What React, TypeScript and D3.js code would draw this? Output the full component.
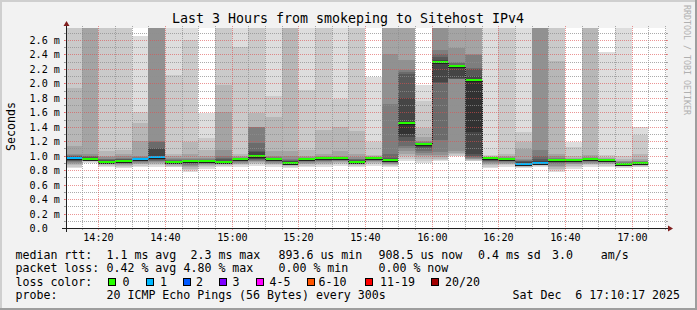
import React from "react";
import * as d3 from "d3";

const WIDTH = 697;
const HEIGHT = 310;
const TITLE = "Last 3 Hours from smokeping to Sitehost IPv4";
const Y_LABEL = "Seconds";
const WATERMARK = "RRDTOOL / TOBI OETIKER";

const RANGE_START = "14:10:17";
const RANGE_END = "17:10:17";
const Y_MAX_MS = 2.766;
const STEP_MIN = 5;

const yTickValues = [0, 0.2, 0.4, 0.6, 0.8, 1.0, 1.2, 1.4, 1.6, 1.8, 2.0, 2.2, 2.4, 2.6];
const yTickLabels = ["0.0", "0.2 m", "0.4 m", "0.6 m", "0.8 m", "1.0 m", "1.2 m", "1.4 m", "1.6 m", "1.8 m", "2.0 m", "2.2 m", "2.4 m", "2.6 m"];
const xTickLabels = ["14:20", "14:40", "15:00", "15:20", "15:40", "16:00", "16:20", "16:40", "17:00"];

const barStarts = [
  "14:10", "14:15", "14:20", "14:25", "14:30", "14:35", "14:40", "14:45", "14:50", "14:55",
  "15:00", "15:05", "15:10", "15:15", "15:20", "15:25", "15:30", "15:35", "15:40", "15:45",
  "15:50", "15:55", "16:00", "16:05", "16:10", "16:15", "16:20", "16:25", "16:30", "16:35",
  "16:40", "16:45", "16:50", "16:55", "17:00",
];

const medianMs = [
  0.973, 0.954, 0.913, 0.93, 0.954, 0.986, 0.913, 0.927, 0.927, 0.913,
  0.954, 1.0, 0.959, 0.903, 0.954, 0.964, 0.964, 0.917, 0.964, 0.94,
  1.456, 1.157, 2.30, 2.245, 2.05, 0.968, 0.959, 0.889, 0.903, 0.94,
  0.94, 0.959, 0.94, 0.889, 0.903,
];

const lossCount = [
  1, 0, 0, 0, 1, 1, 0, 0, 0, 0,
  0, 0, 0, 0, 0, 0, 0, 0, 0, 0,
  0, 0, 0, 0, 0, 0, 0, 1, 1, 0,
  0, 0, 0, 0, 0,
];

// sorted pings 1..10 (ms)
const pingsLow = [
  [0.83, 0.85, 0.87, 0.89, 0.90, 0.91, 0.92, 0.93, 0.94, 0.96],
  [0.90, 0.91, 0.92, 0.93, 0.935, 0.94, 0.945, 0.95, 0.95, 0.95],
  [0.84, 0.86, 0.87, 0.88, 0.89, 0.90, 0.90, 0.91, 0.91, 0.912],
  [0.83, 0.85, 0.86, 0.87, 0.88, 0.89, 0.90, 0.91, 0.92, 0.925],
  [0.84, 0.86, 0.88, 0.89, 0.90, 0.91, 0.92, 0.93, 0.94, 0.95],
  [0.85, 0.87, 0.89, 0.90, 0.91, 0.92, 0.93, 0.94, 0.95, 0.97],
  [0.84, 0.85, 0.86, 0.87, 0.88, 0.89, 0.90, 0.905, 0.91, 0.912],
  [0.78, 0.80, 0.82, 0.84, 0.86, 0.87, 0.89, 0.90, 0.91, 0.92],
  [0.82, 0.84, 0.86, 0.87, 0.88, 0.89, 0.90, 0.91, 0.92, 0.925],
  [0.84, 0.86, 0.87, 0.88, 0.89, 0.90, 0.905, 0.91, 0.91, 0.912],
  [0.85, 0.87, 0.88, 0.89, 0.90, 0.91, 0.92, 0.93, 0.94, 0.95],
  [0.86, 0.88, 0.90, 0.91, 0.92, 0.93, 0.94, 0.95, 0.96, 0.98],
  [0.85, 0.87, 0.88, 0.89, 0.90, 0.91, 0.92, 0.93, 0.94, 0.95],
  [0.83, 0.85, 0.86, 0.87, 0.88, 0.89, 0.89, 0.90, 0.90, 0.90],
  [0.84, 0.86, 0.88, 0.89, 0.90, 0.91, 0.92, 0.93, 0.94, 0.95],
  [0.85, 0.87, 0.89, 0.90, 0.91, 0.92, 0.93, 0.94, 0.95, 0.96],
  [0.86, 0.88, 0.90, 0.91, 0.92, 0.93, 0.94, 0.95, 0.955, 0.96],
  [0.85, 0.86, 0.87, 0.88, 0.89, 0.895, 0.90, 0.905, 0.91, 0.915],
  [0.86, 0.88, 0.90, 0.91, 0.92, 0.93, 0.94, 0.95, 0.96, 0.962],
  [0.84, 0.86, 0.87, 0.88, 0.89, 0.90, 0.91, 0.92, 0.93, 0.935],
  [0.93, 0.96, 0.99, 1.02, 1.06, 1.10, 1.13, 1.20, 1.26, 1.30],
  [0.90, 0.93, 0.96, 0.99, 1.01, 1.04, 1.07, 1.10, 1.12, 1.14],
  [0.92, 0.94, 0.96, 0.98, 1.01, 1.05, 1.22, 2.00, 2.02, 2.27],
  [0.99, 1.00, 1.02, 1.04, 1.06, 2.055, 2.06, 2.065, 2.07, 2.24],
  [0.92, 0.93, 0.94, 0.95, 0.96, 0.97, 0.98, 1.00, 1.03, 1.33],
  [0.83, 0.85, 0.87, 0.89, 0.90, 0.91, 0.92, 0.93, 0.94, 0.96],
  [0.85, 0.87, 0.88, 0.89, 0.90, 0.91, 0.92, 0.93, 0.94, 0.95],
  [0.83, 0.84, 0.85, 0.86, 0.87, 0.875, 0.88, 0.882, 0.885, 0.887],
  [0.85, 0.86, 0.87, 0.875, 0.88, 0.885, 0.89, 0.89, 0.895, 0.90],
  [0.78, 0.80, 0.82, 0.84, 0.86, 0.88, 0.90, 0.91, 0.92, 0.935],
  [0.82, 0.84, 0.86, 0.88, 0.89, 0.90, 0.91, 0.92, 0.93, 0.935],
  [0.85, 0.87, 0.88, 0.89, 0.90, 0.91, 0.92, 0.93, 0.94, 0.955],
  [0.84, 0.86, 0.88, 0.89, 0.90, 0.91, 0.92, 0.93, 0.935, 0.938],
  [0.83, 0.85, 0.86, 0.87, 0.875, 0.88, 0.88, 0.885, 0.885, 0.887],
  [0.84, 0.85, 0.86, 0.87, 0.88, 0.89, 0.895, 0.90, 0.90, 0.90],
];

// sorted pings 11..20 (ms); values above the chart top are clipped
const pingsHigh = [
  [0.975, 0.98, 0.99, 1.0, 1.01, 1.03, 1.14, 1.94, 3.0, 3.0],
  [0.96, 0.97, 0.98, 0.99, 1.0, 1.02, 3.0, 3.0, 3.0, 3.0],
  [0.915, 0.93, 0.94, 0.95, 0.96, 0.98, 1.0, 1.06, 3.0, 3.0],
  [0.935, 0.94, 0.95, 0.96, 0.97, 0.99, 1.02, 1.08, 3.0, 3.0],
  [0.955, 0.96, 0.965, 0.97, 0.98, 1.0, 1.20, 1.45, 1.61, 2.66],
  [1.0, 1.09, 1.10, 1.19, 1.21, 3.0, 3.0, 3.0, 3.0, 3.0],
  [0.915, 0.925, 0.93, 0.94, 0.95, 0.97, 0.99, 1.03, 2.12, 3.0],
  [0.93, 0.935, 0.94, 0.945, 0.95, 0.97, 1.03, 1.19, 2.60, 3.0],
  [0.93, 0.935, 0.94, 0.945, 0.95, 0.97, 1.0, 1.08, 1.25, 1.59],
  [0.915, 0.93, 0.95, 0.97, 1.0, 1.08, 1.60, 1.98, 3.0, 3.0],
  [0.955, 0.96, 0.96, 0.965, 0.97, 0.98, 0.99, 1.02, 2.51, 3.0],
  [1.01, 1.05, 1.06, 1.17, 1.39, 1.395, 1.40, 1.59, 3.0, 3.0],
  [0.96, 0.965, 0.97, 0.975, 0.98, 1.0, 1.06, 1.53, 1.82, 3.0],
  [0.905, 0.92, 0.93, 0.94, 0.96, 1.0, 1.06, 3.0, 3.0, 3.0],
  [0.955, 0.96, 0.96, 0.965, 0.97, 0.98, 1.0, 1.08, 1.91, 3.0],
  [0.965, 0.97, 0.975, 0.98, 0.985, 0.99, 1.03, 1.36, 3.0, 3.0],
  [0.965, 0.97, 0.975, 0.98, 0.985, 1.0, 1.06, 1.39, 1.79, 3.0],
  [0.92, 0.93, 0.94, 0.95, 0.96, 0.98, 1.03, 1.34, 3.0, 3.0],
  [0.966, 0.97, 0.97, 0.975, 0.975, 0.98, 0.99, 1.01, 1.19, 2.09],
  [0.945, 0.96, 0.97, 1.03, 1.72, 2.40, 3.0, 3.0, 3.0, 3.0],
  [1.47, 1.80, 2.13, 2.16, 2.19, 2.33, 3.0, 3.0, 3.0, 3.0],
  [1.165, 1.17, 1.175, 1.18, 1.19, 1.20, 1.26, 1.38, 1.75, 1.98],
  [2.31, 2.33, 2.36, 2.40, 2.46, 3.0, 3.0, 3.0, 3.0, 3.0],
  [2.25, 2.255, 2.26, 2.28, 2.30, 2.49, 3.0, 3.0, 3.0, 3.0],
  [2.06, 2.10, 2.20, 2.21, 2.39, 2.40, 3.0, 3.0, 3.0, 3.0],
  [0.97, 0.97, 0.97, 0.97, 0.975, 0.975, 0.98, 0.99, 1.01, 3.0],
  [0.96, 0.96, 0.965, 0.97, 0.975, 0.98, 0.99, 1.02, 3.0, 3.0],
  [0.89, 0.91, 0.92, 0.93, 0.94, 0.96, 1.09, 1.19, 1.33, 3.0],
  [0.905, 0.93, 0.96, 1.0, 1.08, 3.0, 3.0, 3.0, 3.0, 3.0],
  [0.945, 0.95, 0.955, 0.96, 0.97, 0.99, 1.03, 2.31, 3.0, 3.0],
  [0.945, 0.945, 0.95, 0.95, 0.955, 0.96, 0.97, 0.99, 1.12, 1.19],
  [0.96, 0.962, 0.965, 0.967, 0.97, 0.98, 1.01, 3.0, 3.0, 3.0],
  [0.942, 0.945, 0.95, 0.95, 0.955, 0.96, 0.97, 0.98, 1.01, 2.44],
  [0.89, 0.895, 0.90, 0.905, 0.91, 0.92, 0.93, 0.95, 0.99, 3.0],
  [0.905, 0.91, 0.91, 0.915, 0.92, 0.93, 0.95, 1.03, 1.29, 1.40],
];

const lossLegendLabels = ["0", "1", "2", "3", "4-5", "6-10", "11-19", "20/20"];
const lossLegendColors = ["#26ff00", "#00b8ff", "#0059ff", "#7e00ff", "#ff00ff", "#ff5500", "#ff0000", "#a10000"];

const statRtt = ["median rtt:", "1.1 ms avg", "2.3 ms max", "893.6 us min", "908.5 us now", "0.4 ms sd", "3.0    am/s"];
const statLoss = ["packet loss:", "0.42 % avg", "4.80 % max", "0.00 % min", "0.00 % now"];
const probeLine = ["probe:", "20 ICMP Echo Pings (56 Bytes) every 300s", "Sat Dec  6 17:10:17 2025"];

const FONT = "'DejaVu Sans Mono', monospace";

function lossIndex(n: number): number {
  if (n <= 3) return n;
  if (n <= 5) return 4;
  if (n <= 10) return 5;
  if (n <= 19) return 6;
  return 7;
}

function smokeShade(k: number): string {
  const v = Math.floor((190 / 10) * (10 - k)) + 50;
  return d3.rgb(v, v, v).formatHex();
}

const PRE: React.CSSProperties = { whiteSpace: "pre" };

export default function App() {
  const parseHMS = d3.timeParse("%H:%M:%S");
  const parseHM = d3.timeParse("%H:%M");
  const X0 = 66, X1 = 666, Y0 = 228, Y1 = 28;

  const x = d3.scaleTime().domain([parseHMS(RANGE_START)!, parseHMS(RANGE_END)!]).range([X0, X1]);
  const y = d3.scaleLinear().domain([0, Y_MAX_MS]).range([Y0, Y1]);

  const bars = barStarts.map((s, i) => {
    const t0 = parseHM(s)!;
    const t1 = d3.timeMinute.offset(t0, STEP_MIN);
    const pings = [...pingsLow[i], ...pingsHigh[i]];
    return {
      x0: Math.max(X0, Math.round(x(t0))),
      x1: Math.min(X1, Math.round(x(t1))),
      pings,
      median: medianMs[i],
      loss: lossCount[i],
    };
  });

  const minorTimes = d3.timeMinute.every(5)!.range(x.domain()[0], x.domain()[1]);
  const majorLabels = xTickLabels.map((l) => ({ label: l, x: Math.round(x(parseHM(l)!)) + 0.5 }));
  const majorSet = new Set(majorLabels.map((d) => d.x));

  const hGrid = d3.range(1, 28).map((i) => i / 10).filter((v) => v < Y_MAX_MS);

  const medianY = (m: number) => Math.round(y(m));

  return (
    <div style={{ position: "absolute", left: 0, top: 0 }}>
      <svg width={WIDTH} height={HEIGHT} style={{ display: "block" }} fontFamily={FONT}>
        <defs>
          <clipPath id="canvasClip">
            <rect x={X0} y={Y1} width={X1 - X0} height={Y0 - Y1} />
          </clipPath>
        </defs>
        {/* background + 3D frame */}
        <rect x={0} y={0} width={WIDTH} height={HEIGHT} fill="#f2f2f2" />
        <rect x={0} y={0} width={WIDTH} height={2} fill="#cfcfcf" />
        <rect x={0} y={0} width={2} height={HEIGHT} fill="#cfcfcf" />
        <rect x={WIDTH - 2} y={0} width={2} height={HEIGHT} fill="#9e9e9e" />
        <rect x={0} y={HEIGHT - 2} width={WIDTH} height={2} fill="#9e9e9e" />
        {/* canvas */}
        <rect x={X0} y={Y1} width={X1 - X0} height={Y0 - Y1} fill="#ffffff" />

        {/* smoke */}
        <g clipPath="url(#canvasClip)" shapeRendering="crispEdges">
          {bars.map((b, i) =>
            d3.range(1, 11).map((k) => {
              const lo = b.pings[k - 1];
              const hi = Math.min(b.pings[20 - k], Y_MAX_MS + 0.05);
              const yt = Math.round(y(hi));
              const yb = Math.round(y(lo));
              if (yb - yt <= 0) return null;
              return (
                <rect key={`s${i}-${k}`} x={b.x0} y={yt} width={b.x1 - b.x0} height={yb - yt} fill={smokeShade(k)} />
              );
            })
          )}
        </g>

        {/* median lines */}
        <g shapeRendering="crispEdges" clipPath="url(#canvasClip)">
          {bars.map((b, i) => {
            const ym = medianY(b.median);
            return (
              <g key={`m${i}`}>
                <rect x={b.x0} y={ym - 1} width={b.x1 - b.x0} height={2} fill={lossLegendColors[lossIndex(b.loss)]} />
                <rect x={b.x0} y={ym + 1} width={b.x1 - b.x0} height={1} fill="#202020" />
              </g>
            );
          })}
          {bars.slice(1).map((b, i) => {
            const ya = medianY(bars[i].median) + 1;
            const yb = medianY(b.median) + 1;
            if (Math.abs(ya - yb) < 2) return null;
            return (
              <line key={`c${i}`} x1={b.x0 + 0.5} x2={b.x0 + 0.5} y1={Math.min(ya, yb)} y2={Math.max(ya, yb)}
                stroke="#202020" strokeWidth={1} strokeDasharray="1,1" />
            );
          })}
        </g>

        {/* grid */}
        <g shapeRendering="crispEdges">
          {hGrid.map((v, i) => {
            const yy = Math.round(y(v)) + 0.5;
            const major = Math.round(v * 10) % 2 === 0;
            const col = major ? "rgba(222,79,79,0.6)" : "rgba(143,143,143,0.75)";
            return (
              <g key={`h${i}`}>
                <line x1={X0 - 2} x2={X1 + 2} y1={yy} y2={yy} stroke={col} strokeDasharray="1,1" />
                <line x1={X0 - 2} x2={X0} y1={yy} y2={yy} stroke={col} />
                <line x1={X1} x2={X1 + 2} y1={yy} y2={yy} stroke={col} />
              </g>
            );
          })}
          {minorTimes.map((t, i) => {
            const xx = Math.round(x(t)) + 0.5;
            if (xx <= X0 || xx >= X1) return null;
            const major = majorSet.has(xx);
            const col = major ? "rgba(222,79,79,0.6)" : "rgba(143,143,143,0.75)";
            return (
              <g key={`v${i}`}>
                <line x1={xx} x2={xx} y1={Y1 - 2} y2={Y0 + 2} stroke={col} strokeDasharray="1,1" />
                <line x1={xx} x2={xx} y1={Y0} y2={Y0 + 2} stroke={col} />
              </g>
            );
          })}
        </g>

        {/* axes */}
        <g shapeRendering="crispEdges">
          <line x1={X0 - 4} x2={X1 + 4} y1={Y0 + 0.5} y2={Y0 + 0.5} stroke="#1f1f1f" />
          <line x1={X0 + 0.5} x2={X0 + 0.5} y1={Y0 + 4} y2={Y1 - 4} stroke="#1f1f1f" />
        </g>
        <polygon points={`${X1 + 2},${Y0 - 2.5} ${X1 + 2},${Y0 + 3.5} ${X1 + 7},${Y0 + 0.5}`} fill="#801f1f" />
        <polygon points={`${X0 - 2.5},${Y1 - 2} ${X0 + 3.5},${Y1 - 2} ${X0 + 0.5},${Y1 - 7}`} fill="#801f1f" />

        {/* y tick labels */}
        {yTickValues.map((v, i) => (
          <text key={`yl${i}`} x={29.5} y={Math.round(y(v)) + 4} fontSize={10.1} fill="#000" xmlSpace="preserve" style={PRE}>
            {yTickLabels[i]}
          </text>
        ))}
        {/* x tick labels */}
        {majorLabels.map((d, i) => (
          <text key={`xl${i}`} x={d.x} y={241} fontSize={10.1} textAnchor="middle" fill="#000">
            {d.label}
          </text>
        ))}

        {/* title, unit, watermark */}
        <text x={348} y={23} fontSize={13.3} textAnchor="middle" fill="#000">{TITLE}</text>
        <text transform="translate(14.5,126.5) rotate(-90)" fontSize={11.6} textAnchor="middle" fill="#000">{Y_LABEL}</text>
        <text transform="translate(684,5) rotate(90)" fontSize={8.3} fill="#b0b0b0">{WATERMARK}</text>

        {/* legend */}
        <g fontSize={11.6} fill="#000">
          {[15.5, 106.5, 190.5, 278.5, 378.5, 478, 552].map((xx, i) => (
            <text key={`r${i}`} x={xx} y={258.5} xmlSpace="preserve" style={PRE}>{statRtt[i]}</text>
          ))}
          {[15.5, 106.5, 183.5, 278.5, 378.5].map((xx, i) => (
            <text key={`l${i}`} x={xx} y={272} xmlSpace="preserve" style={PRE}>{statLoss[i]}</text>
          ))}
          <text x={15.5} y={285.5}>loss color:</text>
          {[108, 146, 183, 219, 256, 306.5, 365, 430.5].map((bx, i) => (
            <g key={`lc${i}`}>
              <rect x={Math.round(bx) + 0.5} y={278.5} width={7} height={7} fill={lossLegendColors[i]} stroke="#000" strokeWidth={1} />
              <text x={[122.5, 160, 196, 232.5, 269.5, 318.5, 380, 445][i]} y={285.5}>{lossLegendLabels[i]}</text>
            </g>
          ))}
          {[15.5, 106.5, 512.5].map((xx, i) => (
            <text key={`p${i}`} x={xx} y={299} xmlSpace="preserve" style={PRE}>{probeLine[i]}</text>
          ))}
        </g>
      </svg>
    </div>
  );
}
